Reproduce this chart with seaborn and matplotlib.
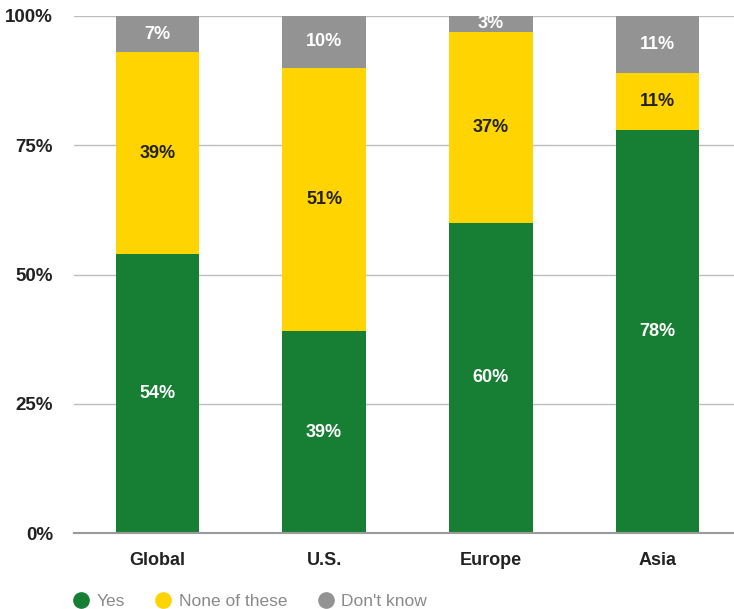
import matplotlib.pyplot as plt
import matplotlib.ticker as mticker
from matplotlib.lines import Line2D
import pandas as pd
import seaborn as sns

regions = ['Global', 'U.S.', 'Europe', 'Asia']
yes = [54, 39, 60, 78]
none_of_these = [39, 51, 37, 11]
dont_know = [7, 10, 3, 11]

green = '#177f33'
yellow = '#ffd400'
grey = '#939393'
dark = '#222222'

sns.set_style('white')
plt.rcParams['font.family'] = ['Liberation Sans', 'DejaVu Sans']

df = pd.DataFrame({'region': regions, 'yes': yes,
                   'none': none_of_these, 'dk': dont_know})
df['top'] = df['yes'] + df['none'] + df['dk']
df['mid'] = df['yes'] + df['none']

fig = plt.figure(figsize=(7.34, 6.09), dpi=100)
ax = fig.add_axes([74 / 734, 1 - 533 / 609, 667 / 734, (533 - 16) / 609])

# stacked bars: draw the tallest layer first
for col, c in [('top', grey), ('mid', yellow), ('yes', green)]:
    sns.barplot(data=df, x='region', y=col, color=c, width=0.5,
                saturation=1, linewidth=0, ax=ax, zorder=2)

# segment labels
for i, r in df.iterrows():
    segs = [(0, r['yes']), (r['yes'], r['none']), (r['mid'], r['dk'])]
    for j, (base, h) in enumerate(segs):
        col = dark if j == 1 else 'white'
        ax.text(i, base + h / 2, f'{h}%', ha='center', va='center',
                color=col, fontsize=13, fontweight='bold', zorder=3)

ax.set_ylim(0, 100)
ax.set_xlim(-0.5, 3.5)
ax.set_yticks([0, 25, 50, 75, 100])
ax.yaxis.set_major_formatter(mticker.FuncFormatter(lambda v, p: f'{v:.0f}%'))
ax.set_xlabel('')
ax.set_ylabel('')
ax.grid(axis='y', color='#bdbdbd', lw=1, zorder=0)
ax.set_axisbelow(True)

for s in ['top', 'right', 'left']:
    ax.spines[s].set_visible(False)
ax.spines['bottom'].set_color('#9a9a9a')
ax.spines['bottom'].set_linewidth(1.5)

ax.set_xticks([-0.5, 0.5, 1.5, 2.5, 3.5], minor=True)
ax.tick_params(axis='x', which='minor', length=5, width=1.2, color='#9a9a9a',
               direction='out')
ax.tick_params(axis='x', which='major', length=0, pad=14, labelsize=13,
               labelcolor=dark)
ax.tick_params(axis='y', length=0, pad=15, labelsize=13.5, labelcolor=dark)
for lab in ax.get_xticklabels() + ax.get_yticklabels():
    lab.set_fontweight('bold')

handles = [Line2D([], [], marker='o', ls='', color=c, markersize=11)
           for c in [green, yellow, grey]]
fig.legend(handles, ['Yes', 'None of these', "Don't know"], loc='center left',
           bbox_to_anchor=(55 / 734, 1 - 601 / 609), ncol=3, frameon=False,
           fontsize=12.5, labelcolor='#8a8a8a', handletextpad=0.3,
           columnspacing=1.6, handlelength=1.2)

fig.savefig('out.png', dpi=100)
